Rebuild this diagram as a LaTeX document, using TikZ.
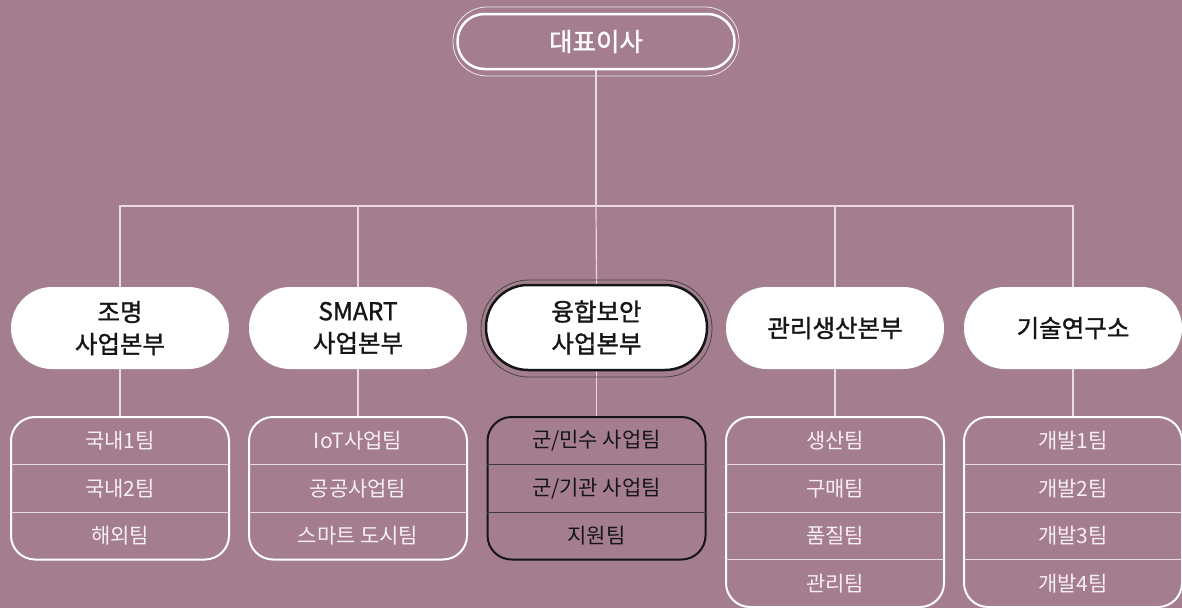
\documentclass[tikz,border=0pt]{standalone}
\usepackage{fontspec}
\setmainfont{Noto Sans CJK KR}
\newfontfamily\krmid[FakeBold=1.3]{Noto Sans CJK KR}
\usetikzlibrary{backgrounds}
\definecolor{bg}{RGB}{164,126,142}
\definecolor{ln}{RGB}{232,218,224}
\definecolor{tx}{RGB}{246,238,242}
\definecolor{ink}{RGB}{22,22,22}
\begin{document}
\begin{tikzpicture}[x=1pt,y=-1pt,
  conn/.style={draw=ln, line width=1.2pt},
  ceobox/.style={draw=white, line width=2.5pt, rounded corners=27pt, minimum width=277pt, minimum height=55pt, inner sep=0pt, text=white, font=\krmid\fontsize{25.5}{30}\selectfont},
  ceoring/.style={draw=white!80!bg, line width=0.8pt, rounded corners=34pt, minimum width=286pt, minimum height=69pt, inner sep=0pt},
  divbox/.style={fill=white, rounded corners=40.9pt, minimum width=218pt, minimum height=82pt, inner sep=0pt, align=center, text=ink, font=\krmid\fontsize{24.5}{32}\selectfont},
  keydiv/.style={divbox, draw=ink, line width=2.5pt, rounded corners=42pt, minimum width=221pt, minimum height=85pt},
  keyring/.style={draw=ink!80, line width=0.8pt, rounded corners=48pt, minimum width=231pt, minimum height=97pt, inner sep=0pt},
  teambox/.style={draw=white, line width=2pt, rounded corners=24pt, minimum width=218pt, inner sep=0pt},
  keyteam/.style={teambox, draw=ink},
  row/.style={minimum width=218pt, minimum height=47.5pt, inner sep=0pt, text=tx, font=\fontsize{21}{24}\selectfont},
  keyrow/.style={row, text=ink},
  sepline/.style={draw=ln, line width=1pt},
  keysep/.style={draw=ink!85, line width=1pt}]
\useasboundingbox (0,0) rectangle (1182,608);

% CEO
\node[ceoring] (ceoring) at (596,41.5) {};
\node[ceobox] (ceo) at (596,41.5) {대표이사};
\coordinate (bus) at (596,206);

% divisions
\node[divbox] (d1) at (120,328) {조명\\사업본부};
\node[divbox] (d2) at (358,328) {SMART\\사업본부};
\node[keyring] (d3ring) at (596.5,328.5) {};
\node[keydiv] (d3) at (596.5,327.5) {융합보안\\사업본부};
\node[divbox] (d4) at (835,328) {관리생산본부};
\node[divbox] (d5) at (1073,328) {기술연구소};

% team boxes
\node[teambox, minimum height=142.5pt] (t1) at (120,488.25) {};
\node[teambox, minimum height=142.5pt] (t2) at (358,488.25) {};
\node[keyteam, minimum height=142.5pt] (t3) at (596.5,488.25) {};
\node[teambox, minimum height=190pt] (t4) at (835,512) {};
\node[teambox, minimum height=190pt] (t5) at (1073,512) {};

% rows
\node[row] (a1) at (120,440.75) {국내1팀};
\node[row] (a2) at (120,488.25) {국내2팀};
\node[row] (a3) at (120,535.75) {해외팀};
\node[row] (b1) at (358,440.75) {IoT사업팀};
\node[row] (b2) at (358,488.25) {공공사업팀};
\node[row] (b3) at (358,535.75) {스마트 도시팀};
\node[keyrow] (c1) at (596.5,440.75) {군/민수 사업팀};
\node[keyrow] (c2) at (596.5,488.25) {군/기관 사업팀};
\node[keyrow] (c3) at (596.5,535.75) {지원팀};
\node[row] (e1) at (835,440.75) {생산팀};
\node[row] (e2) at (835,488.25) {구매팀};
\node[row] (e3) at (835,535.75) {품질팀};
\node[row] (e4) at (835,583.25) {관리팀};
\node[row] (f1) at (1073,440.75) {개발1팀};
\node[row] (f2) at (1073,488.25) {개발2팀};
\node[row] (f3) at (1073,535.75) {개발3팀};
\node[row] (f4) at (1073,583.25) {개발4팀};

% separators
\foreach \r in {a1,a2,b1,b2,e1,e2,e3,f1,f2,f3}
  \draw[sepline] (\r.south west) -- (\r.south east);
\foreach \r in {c1,c2}
  \draw[keysep] (\r.south west) -- (\r.south east);

% background and connectors
\begin{scope}[on background layer]
  \fill[bg] (0,0) rectangle (1182,608);
  \draw[conn] (ceo.south) -- (bus);
  \foreach \d in {d1,d2,d4,d5}
    \draw[conn] (bus) -| (\d.north);
  \draw[conn] (bus) -- (d3.north);
  \draw[conn] (d1.south) -- (t1.north);
  \draw[conn] (d2.south) -- (t2.north);
  \draw[conn] (d3.south) -- (t3.north);
  \draw[conn] (d4.south) -- (t4.north);
  \draw[conn] (d5.south) -- (t5.north);
\end{scope}
\end{tikzpicture}
\end{document}
